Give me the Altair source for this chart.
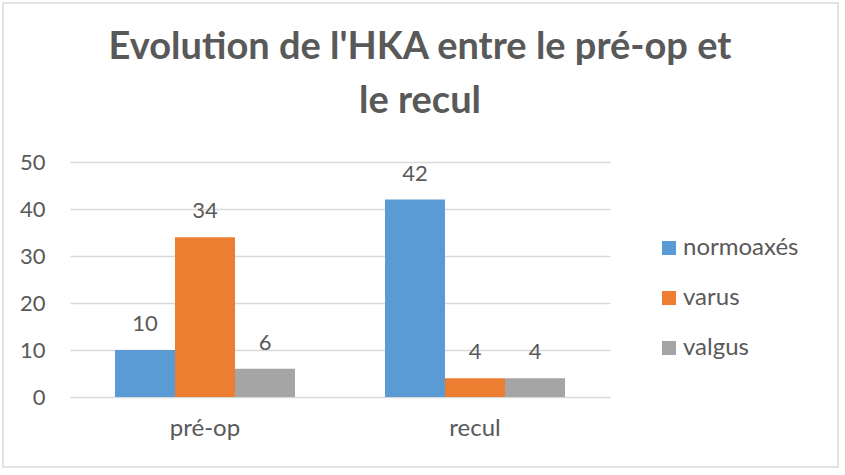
import altair as alt
import pandas as pd

categories = ["pré-op", "recul"]
series = ["normoaxés", "varus", "valgus"]
preop_values = [10, 34, 6]
recul_values = [42, 4, 4]
colors = ["#5B9BD5", "#ED7D31", "#A5A5A5"]
y_ticks = [0, 10, 20, 30, 40, 50]
title_lines = ["Evolution de l'HKA entre le pré-op et", "le recul"]

rows = []
for cat, vals in zip(categories, [preop_values, recul_values]):
    for s, v in zip(series, vals):
        rows.append({"periode": cat, "serie": s, "valeur": v})
df = pd.DataFrame(rows)

FONT = "Lato"
GRAY = "#595959"

x_enc = alt.X(
    "periode:N",
    sort=categories,
    scale=alt.Scale(paddingInner=1 / 3, paddingOuter=1 / 6),
    axis=alt.Axis(
        title=None, labelAngle=0, ticks=False, domain=False,
        labelFont=FONT, labelFontSize=24, labelColor=GRAY,
        labelPadding=19, labelBaseline="top",
    ),
)
xoff_enc = alt.XOffset("serie:N", sort=series, scale=alt.Scale(paddingInner=0, paddingOuter=0))
y_enc = alt.Y(
    "valeur:Q",
    scale=alt.Scale(domain=[0, 50]),
    axis=alt.Axis(
        title=None, values=y_ticks, ticks=False, domain=False,
        grid=True, gridColor="#D9D9D9", gridWidth=1.5,
        labelFont=FONT, labelFontSize=22, labelColor=GRAY, labelPadding=25,
    ),
)

base = alt.Chart(df)

bars = base.mark_bar().encode(
    x=x_enc,
    xOffset=xoff_enc,
    y=y_enc,
    color=alt.Color(
        "serie:N",
        sort=series,
        scale=alt.Scale(domain=series, range=colors),
        legend=alt.Legend(
            title=None, orient="none", legendX=587, legendY=74,
            symbolType="square", symbolSize=196, symbolStrokeWidth=0,
            labelFont=FONT, labelFontSize=24, labelColor=GRAY,
            labelOffset=2, rowPadding=26, padding=0,
        ),
    ),
)

labels = base.mark_text(
    baseline="alphabetic", dy=-19, font=FONT, fontSize=22, color=GRAY
).encode(
    x=alt.X("periode:N", sort=categories),
    xOffset=alt.XOffset("serie:N", sort=series),
    y=alt.Y("valeur:Q"),
    text=alt.Text("valeur:Q"),
)

one = pd.DataFrame({"a": [0]})

frame = alt.Chart(one).mark_rect(
    fill=None, stroke="#D9D9D9", strokeWidth=1.5
).encode(
    x=alt.value(-67), x2=alt.value(768), y=alt.value(-159), y2=alt.value(305)
)

title = alt.Chart(one).mark_text(
    text=title_lines, font=FONT, fontSize=38, fontWeight="bold", color=GRAY,
    align="center", baseline="alphabetic", lineHeight=54,
).encode(x=alt.value(350), y=alt.value(-103))

chart = alt.layer(frame, title, bars, labels).properties(
    width=540,
    height=235,
    autosize=alt.AutoSizeParams(type="none"),
    padding={"left": 70, "top": 162, "right": 235, "bottom": 78},
    background="white",
).configure_view(stroke=None)

chart.save("out.html", embed_options={"renderer": "svg", "actions": False})
